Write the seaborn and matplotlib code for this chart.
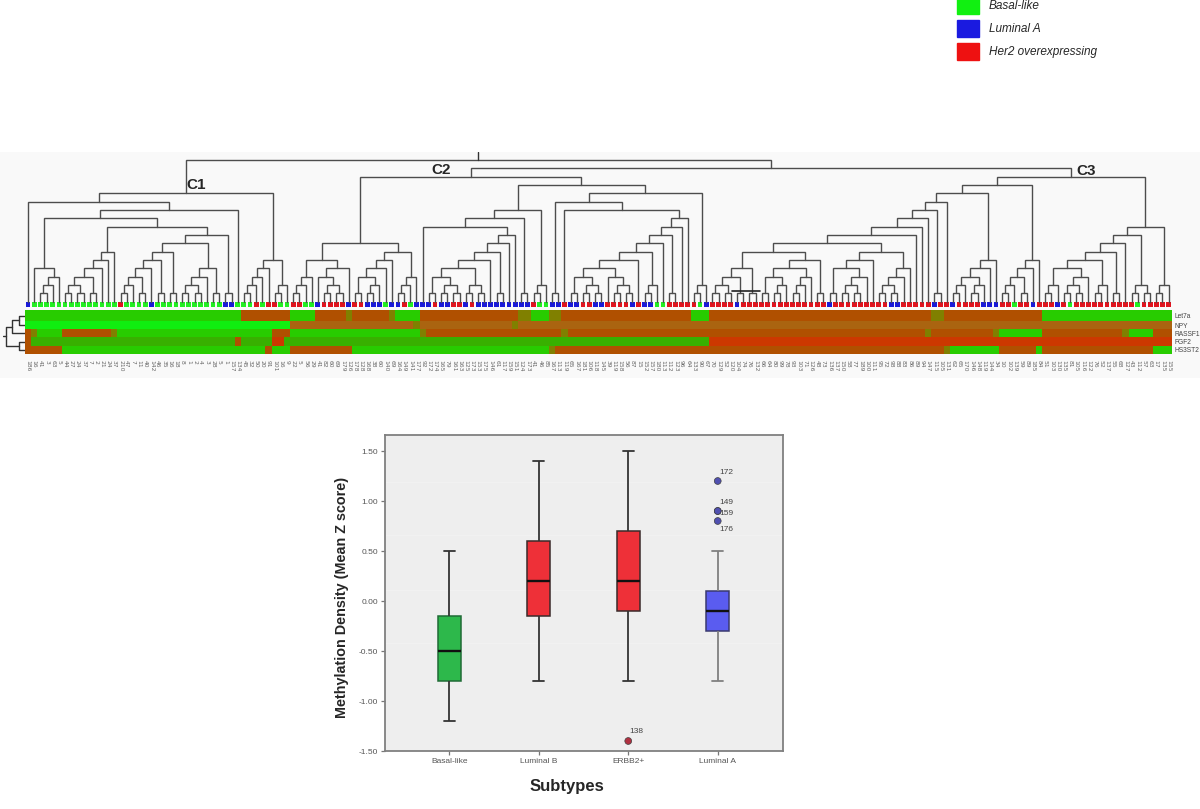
import numpy as np
import pandas as pd
import matplotlib.pyplot as plt
import seaborn as sns
from matplotlib.colors import ListedColormap
from matplotlib.patches import Patch

W, H = 1200, 809

# sample ids under the heatmap (blurry in the source, best reading)
sample_ids = [
    186, 16, 41, 3, 63, 5, 44, 27, 24, 37, 7, 2, 21, 24, 37, 210, 47, 7, 11, 40,
    142, 46, 35, 16, 18, 8, 1, 2, 4, 3, 28, 5, 1, 157, 134, 45, 32, 50, 20, 91,
    101, 16, 9, 22, 5, 56, 29, 41, 82, 60, 69, 179, 126, 178, 128, 168, 38, 60, 140, 69,
    164, 149, 141, 177, 92, 172, 174, 165, 79, 161, 163, 125, 173, 153, 175, 146, 61, 117, 159, 151,
    124, 173, 41, 46, 85, 167, 113, 119, 65, 167, 181, 106, 118, 145, 39, 119, 158, 56, 87, 15,
    152, 157, 180, 113, 112, 123, 96, 64, 133, 90, 67, 70, 129, 52, 120, 104, 74, 76, 132, 66,
    64, 80, 99, 78, 93, 103, 71, 126, 48, 73, 136, 137, 150, 58, 77, 189, 100, 111, 95, 72,
    98, 88, 83, 86, 89, 94, 147, 115, 105, 131, 62, 65, 170, 146, 148, 119, 144, 34, 10, 102,
    139, 59, 89, 185, 84, 51, 103, 130, 135, 81, 105, 116, 122, 76, 52, 137, 55, 68, 127, 43,
    112, 57, 63, 17, 135, 155,
]

# subtype of each leaf, as (subtype, run length)
leaf_runs = [
    ('L', 1), ('B', 14), ('H', 1), ('B', 4), ('L', 1), ('B', 11), ('L', 2), ('B', 3), ('H', 1), ('B', 1),
    ('H', 2), ('B', 2), ('H', 2), ('B', 2), ('L', 1), ('H', 4), ('L', 1), ('H', 2), ('L', 3), ('B', 1),
    ('L', 2), ('H', 1), ('B', 1), ('L', 3), ('H', 1), ('L', 2), ('H', 2), ('L', 1), ('H', 1), ('L', 9),
    ('H', 1), ('B', 2), ('L', 2), ('H', 1), ('L', 2), ('H', 2), ('L', 2), ('H', 4), ('L', 1), ('H', 1),
    ('L', 2), ('B', 2), ('H', 5), ('B', 1), ('L', 1), ('H', 4), ('L', 1), ('H', 14), ('L', 1), ('H', 9),
    ('L', 2), ('H', 5), ('L', 1), ('H', 2), ('L', 1), ('H', 4), ('L', 3), ('H', 2), ('B', 1), ('H', 2),
    ('L', 1), ('H', 3), ('L', 1), ('H', 1), ('B', 1), ('H', 10), ('B', 1), ('H', 5),
]
leaf_palette = {'B': '#22ee22', 'L': '#1a1ad8', 'H': '#e0141e'}

# heatmap rows: (colour level, last column of the run)
row_names = ['Let7a', 'NPY', 'RASSF1', 'FGF2', 'HS3ST2']
let7a = [(1, 35), (4, 43), (1, 47), (4, 52), (3, 53), (4, 59), (3, 60), (1, 64), (4, 80), (3, 82), (1, 85),
         (3, 87), (4, 108), (1, 111), (4, 147), (3, 149), (4, 165), (1, 186)]
npy = [(0, 43), (6, 63), (3, 64), (6, 79), (3, 80), (6, 186)]
rassf1 = [(4, 1), (3, 2), (1, 6), (4, 14), (3, 15), (1, 40), (4, 43), (1, 64), (3, 65), (4, 87), (3, 88),
          (4, 146), (3, 147), (4, 157), (3, 158), (1, 165), (4, 178), (3, 179), (1, 183), (4, 186)]
fgf2 = [(4, 1), (2, 34), (4, 35), (2, 40), (5, 42), (2, 111), (5, 186)]
hs3st2 = [(4, 6), (1, 39), (4, 40), (1, 43), (4, 53), (1, 85), (3, 86), (4, 149), (3, 150), (1, 158),
          (4, 164), (1, 165), (4, 183), (1, 186)]
level_colors = ['#10ee10', '#28cc00', '#38b000', '#808000', '#b05000', '#cc3800', '#aa6410']
row_heights = [11, 8, 8, 9, 8]

# dendrogram: (merge level, left, right), 0 is a leaf, p a pair of leaves
p = (1, 0, 0)
c1_a = (4, 0, (3, (2, p, 0), 0))
c1_b = (6, (5, (4, (3, (2, p, p), p), 0), 0), 0)
c1_c = (7, (6, (5, (4, (3, (2, p, 0), p), 0), p), p), (4, (3, (2, p, p), 0), p))
c1_left = (12, 0, (11, (10, c1_a, (9, c1_b, (8, c1_c, p))), 0))
c1_right = (5, (4, (3, (2, p, 0), 0), 0), (2, p, 0))
c1 = (13, c1_left, c1_right)

c2_a = (7, (5, (3, (2, p, 0), 0), (4, (3, 0, (2, p, p)), 0)),
        (6, (5, (4, (3, p, (2, p, 0)), 0), 0), (3, (2, p, 0), 0)))
c2_b = (11, (10, (9, 0, (8, (7, (6, (5, (4, (3, p, (2, p, p)), (2, p, p)), 0), p), 0), 0)), p), (2, p, 0))
c2_c = (13, (12, p, (11, 0, (10, (9, (8, (7, (6, (5, (4, (3, p, (2, p, p)), (3, 0, (2, p, p))), 0),
                                          (2, p, 0)), 0), p), 0), 0))), (2, p, 0))
c2 = (15, c2_a, (14, c2_b, c2_c))

c3_g1 = (4, (3, (2, p, p), p), p)
c3_g2 = (5, (4, (3, p, (2, p, 0)), (3, (2, p, 0), 0)), p)
c3_g3 = (6, (5, (4, p, (3, (2, p, p), 0)), 0), (4, (3, (2, p, p), 0), 0))
c3_chain = (12, (11, (10, (9, (8, (7, (6, c3_g1, c3_g2), c3_g3), 0), 0), 0), p), 0)
c3_g4 = (5, (4, (3, (2, p, 0), (2, p, 0)), 0), 0)
c3_g5 = (5, (4, (3, (2, p, 0), p), 0), 0)
c3_right = (9, (8, (7, (6, (5, (4, (2, p, 0), (3, (2, p, p), 0)), (2, p, 0)), p), 0), (2, p, p)), (2, p, 0))
c3 = (15, (14, (13, c3_chain, c3_g4), c3_g5), c3_right)
sample_tree = (17, c1, (16, c2, c3))
row_tree = (3, (2, (1, 0, 0), 0), (1, 0, 0))

# boxplot: whisker low, q1, median, q3, whisker high
subtypes = ['Basal-like', 'Luminal B', 'ERBB2+', 'Luminal A']
basal_like = [-1.2, -0.8, -0.5, -0.15, 0.5]
luminal_b = [-0.8, -0.15, 0.2, 0.6, 1.4]
erbb2 = [-0.8, -0.1, 0.2, 0.7, 1.5]
luminal_a = [-0.8, -0.3, -0.1, 0.1, 0.5]
box_colors = ['#2db84b', '#ee3038', '#ee3038', '#5a5cf0']
edge_colors = ['#1f6b35', '#3a2a2a', '#3a2a2a', '#3a3a70']
whisker_colors = ['#333333', '#333333', '#333333', '#808080']
outlier_subtype = ['ERBB2+', 'Luminal A', 'Luminal A', 'Luminal A', 'Luminal A']
outlier_value = [-1.4, 1.2, 0.9, 0.9, 0.8]
outlier_label = ['138', '172', '149', '159', '176']
outlier_offset = [(6, 6.5), (6.5, 6.3), (6.5, 6.3), (6.5, -1.7), (6.5, -5.8)]
y_ticks = [-1.5, -1.0, -0.5, 0.0, 0.5, 1.0, 1.5]
y_tick_labels = ['-1.50', '-1.00', '-0.50', '0.00', '0.50', '1.00', '1.50']
faint_lines = [1.19, 0.66, 0.115, -0.42]

sns.set_style('white')
plt.rcParams['font.family'] = ['Liberation Sans', 'DejaVu Sans']


def px_axes(left, top, right, bottom):
    return fig.add_axes([left / W, 1 - bottom / H, (right - left) / W, (bottom - top) / H])


def tree_segments(node, positions, segs):
    if node == 0:
        return next(positions), 0
    level, left, right = node
    a, a_h = tree_segments(left, positions, segs)
    b, b_h = tree_segments(right, positions, segs)
    segs.append(([a, a, b, b], [a_h, level, level, b_h]))
    return (a + b) / 2, level


fig = plt.figure(figsize=(W / 100, H / 100), dpi=100, facecolor='white')

# light panel behind the clustering
panel = px_axes(0, 152, W, 378)
panel.set_facecolor('#f9f9f9')
panel.set_xticks([])
panel.set_yticks([])
sns.despine(ax=panel, left=True, bottom=True)

# sample dendrogram, y is merge level (8.33 px each)
ax_tree = px_axes(25, 152, 1171.7, 309)
ax_tree.patch.set_alpha(0)
ax_tree.set_xlim(0, len(sample_ids))
ax_tree.set_ylim(-0.88, 17.97)
segs = []
root_x, root_level = tree_segments(sample_tree, iter(np.arange(len(sample_ids)) + 0.5), segs)
for xs, ys in segs:
    ax_tree.plot(xs, ys, color='#4d4d4d', lw=1.0, solid_joinstyle='miter')
ax_tree.plot([root_x, root_x], [root_level, 17.97], color='#333333', lw=1.0)
# stray line in the source figure
ax_tree.plot([114.6, 119.2], [1.32, 1.32], color='#222222', lw=1.2)

leaves = pd.DataFrame({
    'pos': np.arange(len(sample_ids)) + 0.5,
    'subtype': np.repeat([r[0] for r in leaf_runs], [r[1] for r in leaf_runs]),
})
leaves['y'] = -0.34
sns.scatterplot(data=leaves, x='pos', y='y', hue='subtype', palette=leaf_palette, marker='s', s=12,
                linewidth=0, legend=False, ax=ax_tree)
ax_tree.set_axis_off()
ax_tree.text(0.1405, 0.787, 'C1', transform=ax_tree.transAxes, fontsize=11, fontweight='bold', ha='left', va='center')
ax_tree.text(0.354, 0.883, 'C2', transform=ax_tree.transAxes, fontsize=11, fontweight='bold', ha='left', va='center')
ax_tree.text(0.917, 0.877, 'C3', transform=ax_tree.transAxes, fontsize=11, fontweight='bold', ha='left', va='center')

# heatmap
rows = [let7a, npy, rassf1, fgf2, hs3st2]
matrix = []
for runs in rows:
    starts = [0] + [r[1] for r in runs[:-1]]
    lengths = [r[1] - s for r, s in zip(runs, starts)]
    matrix.append(np.repeat([r[0] for r in runs], lengths))
matrix = np.repeat(np.array(matrix), row_heights, axis=0)

ax_heat = px_axes(25, 310, 1171.7, 354)
sns.heatmap(matrix, ax=ax_heat, cmap=ListedColormap(level_colors), vmin=-0.5, vmax=6.5, cbar=False,
            xticklabels=[str(s) for s in sample_ids], yticklabels=False)
ax_heat.tick_params(axis='x', length=0, pad=4, labelsize=4.3, labelcolor='#666666', labelrotation=270)
for lab in ax_heat.get_xticklabels():
    lab.set_family('DejaVu Sans')
    lab.set_verticalalignment('top')
row_centers = np.cumsum(row_heights) - np.array(row_heights) / 2
ax_heat.yaxis.tick_right()
ax_heat.set_yticks(row_centers)
ax_heat.set_yticklabels(row_names, rotation=0, fontsize=4.8, color='#444444')
ax_heat.tick_params(axis='y', length=0, pad=2)

# row dendrogram, drawn right to left
ax_rows = px_axes(3, 310, 25, 354)
ax_rows.set_xlim(3.47, 0)
ax_rows.set_ylim(sum(row_heights), 0)
segs = []
root_y, root_level = tree_segments(row_tree, iter(row_centers), segs)
for ys, xs in segs:
    ax_rows.plot(xs, ys, color='#333333', lw=1.0)
ax_rows.plot([root_level, 3.47], [root_y, root_y], color='#333333', lw=1.0)
ax_rows.set_axis_off()

# subtype legend
handles = [Patch(color='#11f011', label='Basal-like'), Patch(color='#1a1ae0', label='Luminal A'),
           Patch(color='#ee1111', label='Her2 overexpressing')]
fig.legend(handles=handles, loc='upper left', bbox_to_anchor=(957 / W, 1 + 3 / H), frameon=False, borderpad=0,
           borderaxespad=0, handlelength=1.86, handleheight=1.84, handletextpad=0.85,
           labelspacing=0.5, prop={'style': 'italic', 'size': 8.5})

# boxplot, whiskers reach the extremes and outliers are drawn on their own
ax_box = px_axes(385, 435, 782.7, 751)
box_values = [basal_like, luminal_b, erbb2, luminal_a]
df = pd.DataFrame({
    'subtype': np.repeat(subtypes, [len(v) for v in box_values]),
    'value': np.concatenate(box_values),
})
sns.boxplot(data=df, x='subtype', y='value', hue='subtype', order=subtypes, hue_order=subtypes,
            palette=dict(zip(subtypes, box_colors)), width=0.253, dodge=False, whis=(0, 100), fliersize=0,
            saturation=1, linewidth=1.1, linecolor='#333333', capwidths=0.125,
            medianprops={'color': '#111111', 'lw': 1.7}, legend=False, ax=ax_box)
for cont, edge, whisker in zip(ax_box.containers, edge_colors, whisker_colors):
    for box in cont.boxes:
        box.set_edgecolor(edge)
    for line in list(cont.whiskers) + list(cont.caps):
        line.set_color(whisker)
        line.set_linewidth(1.3)

for val in faint_lines:
    ax_box.axhline(val, color='#f1f1f1', lw=0.8, zorder=0.5)

outliers = pd.DataFrame({'subtype': outlier_subtype, 'value': outlier_value})
sns.scatterplot(data=outliers, x='subtype', y='value', hue='subtype',
                palette={'ERBB2+': '#b03040', 'Luminal A': '#5050b0'}, s=24, linewidth=0.5, edgecolor='#404040',
                legend=False, ax=ax_box, zorder=5)
for sub, val, txt, off in zip(outlier_subtype, outlier_value, outlier_label, outlier_offset):
    ax_box.annotate(txt, (subtypes.index(sub), val), xytext=off, textcoords='offset points', fontsize=6,
                    color='#444444', ha='center', va='center')

ax_box.set_facecolor('#eeeeee')
ax_box.set_xlim(-0.718, 3.726)
ax_box.set_ylim(-1.5, 1.66)
ax_box.set_yticks(y_ticks)
ax_box.set_yticklabels(y_tick_labels)
ax_box.tick_params(axis='both', left=True, bottom=True, length=3, width=0.9, color='#777777', labelsize=6,
                   labelcolor='#555555', pad=2)
for spine in ax_box.spines.values():
    spine.set_edgecolor('#808080')
    spine.set_linewidth(1.3)
ax_box.set_xlabel('Subtypes', fontsize=12, fontweight='bold')
ax_box.set_ylabel('Methylation Density (Mean Z score)', fontsize=10.4, fontweight='bold')
ax_box.xaxis.set_label_coords(0.457, -0.088)
ax_box.yaxis.set_label_coords(-0.09, 0.487)

fig.savefig('out.png', dpi=100)
